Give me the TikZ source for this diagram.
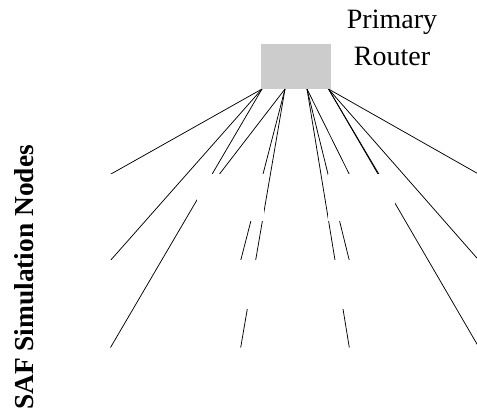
\documentclass[tikz,border=0pt]{standalone}
\usepackage{fontspec}
\setmainfont{Liberation Serif}
\pgfdeclarelayer{wires}
\pgfsetlayers{wires,main}
\begin{document}
\begin{tikzpicture}[x=1pt,y=-1pt,
  wire/.style={line width=0.75pt, black},
  router/.style={rectangle, fill=black!20, draw=none, inner sep=0pt, outer sep=0pt,
    minimum width=70pt, minimum height=45pt, anchor=north west},
  simnode/.style={rectangle, fill=white, draw=none, inner sep=0pt, outer sep=0pt,
    minimum width=67pt, minimum height=#1, anchor=north west},
  bigtext/.style={font=\fontsize{28}{37.4}\selectfont, inner sep=0pt}]
\useasboundingbox (0,0) rectangle (477,415);

% primary router and its label (base anchor sits on the last line)
\node[router] (rt) at (261,44) {};
\node[bigtext, align=center, anchor=base] (rtlabel) at (392,65.7) {Primary\\Router};

% side label
\node[bigtext, font=\fontsize{27.4}{32}\selectfont\bfseries, rotate=90, anchor=base] (side) at (33,277.5) {SAF Simulation Nodes};

% simulation nodes (3 rows x 4 columns), white so they mask the wires behind them
\foreach \c/\x in {1/66,2/197,3/328,4/459}{
  \node[simnode=46.7pt] (n\c1) at (\x,174.3) {};
  \node[simnode=48.6pt] (n\c2) at (\x,260.4) {};
  \node[simnode=48pt]   (n\c3) at (\x,347.5) {};
}

% router ports on its lower edge
\coordinate (p1) at (262,89);
\coordinate (p2) at (285,89);
\coordinate (p3) at (307,89);
\coordinate (p4) at (328.5,89);

% wires, drawn underneath the nodes
\begin{pgfonlayer}{wires}
  \foreach \r in {1,2,3}{
    \draw[wire] (p1) -- ([xshift=44.5pt]n1\r.north west);
    \draw[wire] (p3) -- ([xshift=21.3pt]n3\r.north west);
    \draw[wire] (p4) -- ([xshift=20pt]n4\r.north west);
  }
  \draw[wire] (p2) -- ([xshift=22.3pt]n21.north west);
  \draw[wire] (p2) -- ([xshift=43.7pt]n22.north west);
  \draw[wire] (p2) -- ([xshift=43.7pt]n23.north west);
  \draw[wire] (p4) -- ([xshift=51pt]n31.north west);
\end{pgfonlayer}
\end{tikzpicture}
\end{document}
